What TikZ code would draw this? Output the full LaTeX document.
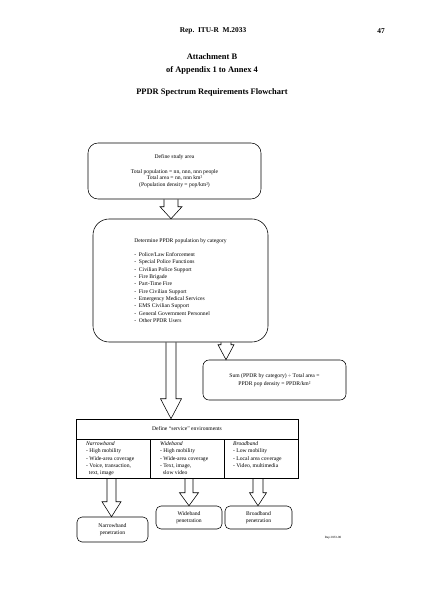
\documentclass[tikz,border=0pt]{standalone}
\usepackage{fontspec}
\setmainfont{Liberation Serif}
\usetikzlibrary{calc,positioning}
\newcommand{\flowtxt}{\fontsize{8}{9}\selectfont}
\newcommand{\flowlist}{\fontsize{8}{10.4}\selectfont}
\tikzset{
  rbox/.style={draw,line width=0.8pt,align=center,inner sep=2pt,font=\flowtxt},
  blockar/.style={line width=0.8pt,line join=miter},
  coltxt/.style={anchor=north west,inner sep=0pt,align=left,font=\flowlist},
  headtxt/.style={font=\bfseries\fontsize{12}{14}\selectfont}
}
% hollow block arrow: column, from node, to node, shaft half width, head half width, head length
\newcommand{\hollowarrow}[6]{\draw[blockar] let \p1=(#2.south -| #1), \p2=(#3.north -| #1) in
  (\x1-#4*0.5mm,\y1) -- (\x1-#4*0.5mm,\y2+#6*0.5mm) -- (\x1-#5*0.5mm,\y2+#6*0.5mm) -- (\x2,\y2)
  -- (\x1+#5*0.5mm,\y2+#6*0.5mm) -- (\x1+#4*0.5mm,\y2+#6*0.5mm) -- (\x1+#4*0.5mm,\y1);}

\begin{document}
\begin{tikzpicture}[x=0.5mm,y=-0.5mm]
\useasboundingbox (0,0) rectangle (423,598);
% page head
\node[font=\bfseries\fontsize{10.5}{12}\selectfont] (rep) at (213,31) {Rep.~~ITU-R~~M.2033};
\node[font=\bfseries\fontsize{10.5}{12}\selectfont] (pg) at (381,31) {47};
\node[headtxt] (att) at (212,57) {Attachment B};
\node[headtxt] (app) at (212,70) {of Appendix 1 to Annex 4};
\node[headtxt] (ttl) at (212,92) {PPDR Spectrum Requirements Flowchart};
% boxes
\node[rbox,rounded corners=5mm,minimum width=86.5mm,minimum height=28mm] (study) at (174.5,171)
  {Define study area\\[12pt]Total population = nn, nnn, nnn people\\Total area = nn, nnn km²\\(Population density = pop/km²)};
\node[rbox,rounded corners=8mm,minimum width=87.5mm,minimum height=61.5mm,align=left,font=\flowlist] (popcat) at (180.5,280.5)
  {Determine PPDR population by category\\[9.5pt]
   -\ \ Police/Law Enforcement\\ -\ \ Special Police Functions\\ -\ \ Civilian Police Support\\
   -\ \ Fire Brigade\\ -\ \ Part-Time Fire\\ -\ \ Fire Civilian Support\\
   -\ \ Emergency Medical Services\\ -\ \ EMS Civilian Support\\
   -\ \ General Government Personnel\\ -\ \ Other PPDR Users};
\node[rbox,rounded corners=3mm,minimum width=71.5mm,minimum height=20mm,font=\flowlist] (sum) at (274.5,380)
  {Sum (PPDR by category) ÷ Total area =\\PPDR pop density = PPDR/km²};
% service environments
\node[draw,line width=0.8pt,minimum width=111mm,minimum height=29.5mm] (env) at (187,448.5) {};
\draw[line width=0.8pt] (76,439) -- (298,439) (150,439) -- (150,478) (224,439) -- (224,478);
\node[font=\flowtxt] (envhead) at (187,429) {Define “service” environments};
\node[coltxt] (nb) at (86,441.5) {\textit{Narrowband}\\- High mobility\\- Wide-area coverage\\- Voice, transaction,\\\ \ text, image};
\node[coltxt] (wb) at (160,441.5) {\textit{Wideband}\\- High mobility\\- Wide-area coverage\\- Text, image,\\\ \ slow video};
\node[coltxt] (bb) at (233,441.5) {\textit{Broadband}\\- Low mobility\\- Local area coverage\\- Video, multimedia};
\node[rbox,rounded corners=2.5mm,minimum width=35.5mm,minimum height=12.5mm,font=\flowlist] (nbpen) at (112.5,529.5) {Narrowband\\penetration};
\node[rbox,rounded corners=2.5mm,minimum width=33mm,minimum height=11.5mm,font=\flowlist] (wbpen) at (189,517.5) {Wideband\\penetration};
\node[rbox,rounded corners=2.5mm,minimum width=33.5mm,minimum height=11.5mm,font=\flowlist] (bbpen) at (258.5,517.5) {Broadband\\penetration};
\node[font=\fontsize{4.5}{5}\selectfont] (rap) at (333,538) {Rap 2033-00};
% arrows
\coordinate (xa) at (171,0);
\coordinate (xb) at (226,0);
\coordinate (xn) at (111.5,0);
\coordinate (xw) at (189,0);
\coordinate (xr) at (258,0);
\hollowarrow{xa}{study}{popcat}{7}{11}{12}
\hollowarrow{xa}{popcat}{env}{5}{10.5}{20}
\hollowarrow{xb}{popcat}{sum}{5}{8}{15}
\hollowarrow{xn}{env}{nbpen}{4.5}{9.5}{15}
\hollowarrow{xw}{env}{wbpen}{4}{9.5}{13}
\hollowarrow{xr}{env}{bbpen}{5}{8.5}{13}
\end{tikzpicture}
\end{document}
